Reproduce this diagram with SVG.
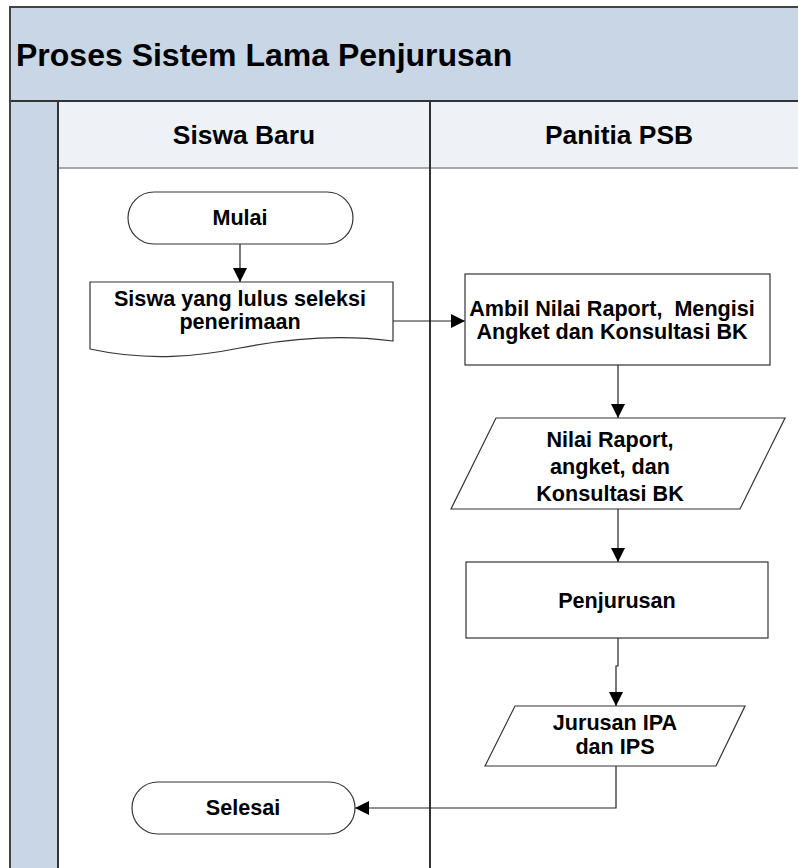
<svg xmlns="http://www.w3.org/2000/svg" width="798" height="868" viewBox="0 0 798 868">
  <style>
    .lbl { font-family: "Liberation Sans", Arial, sans-serif; font-weight: bold; fill: #000; text-anchor: middle; }
    .node { font-size: 21.6px; }
    .shape { fill: #fff; stroke: #333; stroke-width: 1.2; }
    .edge { fill: none; stroke: #222; stroke-width: 1.2; }
  </style>
  <defs>
    <marker id="arrow" markerUnits="userSpaceOnUse" markerWidth="14" markerHeight="14" viewBox="0 0 14 14" refX="14" refY="7" orient="auto">
      <path d="M0,0 L14,7 L0,14 Z" fill="#000"/>
    </marker>
  </defs>

  <!-- swimlane pool -->
  <g id="pool">
    <rect x="10" y="7" width="800" height="870" fill="#fff"/>
    <rect x="10" y="7" width="800" height="94" fill="#c9d6e6"/>
    <rect x="10" y="101" width="48" height="776" fill="#c9d6e6"/>
    <rect x="58" y="101" width="752" height="67" fill="#eef2f7"/>
    <line x1="58" y1="168" x2="810" y2="168" stroke="#8c8c8c" stroke-width="1.5"/>
    <line x1="10" y1="101" x2="810" y2="101" stroke="#333" stroke-width="2"/>
    <line x1="58" y1="101" x2="58" y2="877" stroke="#333" stroke-width="2"/>
    <line x1="430" y1="101" x2="430" y2="877" stroke="#333" stroke-width="2"/>
    <rect x="10" y="7" width="800" height="870" fill="none" stroke="#444" stroke-width="2"/>
    <text class="lbl" x="16" y="66" font-size="32" style="text-anchor:start">Proses Sistem Lama Penjurusan</text>
    <text class="lbl" x="244" y="144" font-size="26.4">Siswa Baru</text>
    <text class="lbl" x="619" y="144" font-size="26.4">Panitia PSB</text>
  </g>

  <!-- connectors -->
  <g id="connectors">
    <path class="edge" d="M240,244 V282" marker-end="url(#arrow)"/>
    <path class="edge" d="M393,321 H465" marker-end="url(#arrow)"/>
    <path class="edge" d="M618,365 V418" marker-end="url(#arrow)"/>
    <path class="edge" d="M618,509 V562" marker-end="url(#arrow)"/>
    <path class="edge" d="M618,638 V666 H616 V706" marker-end="url(#arrow)"/>
    <path class="edge" d="M616,766 V808 H355" marker-end="url(#arrow)"/>
  </g>

  <g id="mulai">
    <rect class="shape" x="128" y="192" width="225" height="52" rx="26" ry="26"/>
    <text class="lbl node" x="240" y="225">Mulai</text>
  </g>

  <g id="siswa-lulus">
    <path class="shape" d="M90,282 H393 V341 C340,334 290,338 240,348 C200,356 150,362 90,349 Z"/>
    <text class="lbl node" x="240" y="306">Siswa yang lulus seleksi</text>
    <text class="lbl node" x="240" y="329">penerimaan</text>
  </g>

  <g id="ambil-nilai">
    <rect class="shape" x="465" y="274" width="305" height="91"/>
    <text class="lbl node" x="612" y="316" xml:space="preserve">Ambil Nilai Raport,  Mengisi</text>
    <text class="lbl node" x="612" y="339">Angket dan Konsultasi BK</text>
  </g>

  <g id="data-nilai">
    <path class="shape" d="M496,418 H785 L740,509 H451 Z"/>
    <text class="lbl node" x="610" y="447">Nilai Raport,</text>
    <text class="lbl node" x="610" y="474">angket, dan</text>
    <text class="lbl node" x="610" y="501">Konsultasi BK</text>
  </g>

  <g id="penjurusan">
    <rect class="shape" x="466" y="562" width="302" height="76"/>
    <text class="lbl node" x="617" y="608">Penjurusan</text>
  </g>

  <g id="jurusan">
    <path class="shape" d="M515,706 H745 L716,766 H485 Z"/>
    <text class="lbl node" x="615" y="730">Jurusan IPA</text>
    <text class="lbl node" x="615" y="754">dan IPS</text>
  </g>

  <g id="selesai">
    <rect class="shape" x="132" y="782" width="223" height="52" rx="26" ry="26"/>
    <text class="lbl node" x="243" y="815">Selesai</text>
  </g>
</svg>
